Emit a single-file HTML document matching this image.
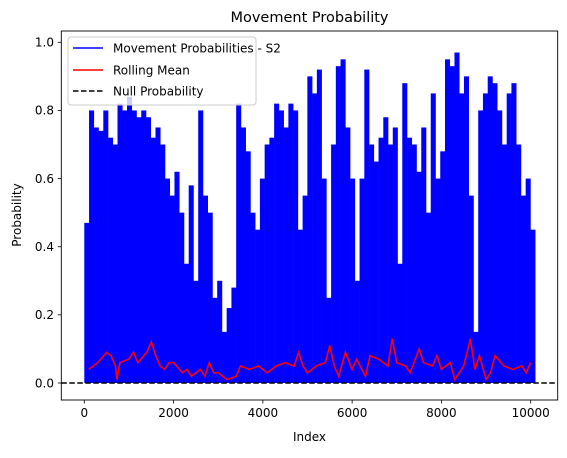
<!DOCTYPE html>
<html><head><meta charset="utf-8"><style>
body{margin:0;background:#fff;}
svg text{font-family:"DejaVu Sans","Liberation Sans",sans-serif;}
</style></head><body>
<svg id="chart" width="567" height="453" xmlns="http://www.w3.org/2000/svg">
<rect width="567" height="453" fill="#fff"/>
<text x="309.5" y="22" font-size="14.5" text-anchor="middle">Movement Probability</text>
<g id="plot"></g>
<g id="axes"></g>
<text x="309.5" y="441" font-size="12" text-anchor="middle">Index</text>
<text transform="translate(21,215) rotate(-90)" font-size="12" text-anchor="middle">Probability</text>
<g>
<rect x="68" y="37" width="188" height="68" fill="#fff" fill-opacity="0.8" stroke="#ccc" rx="3"/>
<line x1="73" y1="48" x2="103" y2="48" stroke="#00f" stroke-width="1.5"/>
<text x="113" y="52.5" font-size="12">Movement Probabilities - S2</text>
<line x1="73" y1="70" x2="103" y2="70" stroke="#f00" stroke-width="1.5"/>
<text x="113" y="74.5" font-size="12">Rolling Mean</text>
<line x1="73" y1="91" x2="103" y2="91" stroke="#000" stroke-width="1.5" stroke-dasharray="5.5,2.5"/>
<text x="113" y="95.5" font-size="12">Null Probability</text>
</g>
</svg>
<script>
const probPeaks=[0.47,0.8,0.75,0.74,0.8,0.72,0.7,0.82,0.8,0.84,0.8,0.78,0.8,0.78,0.72,0.75,0.7,0.6,0.55,0.62,0.5,0.35,0.58,0.3,0.8,0.55,0.5,0.25,0.3,0.15,0.22,0.28,0.82,0.75,0.68,0.5,0.45,0.6,0.7,0.72,0.82,0.8,0.75,0.82,0.8,0.45,0.55,0.9,0.85,0.92,0.6,0.25,0.7,0.93,0.95,0.75,0.6,0.3,0.6,0.92,0.7,0.65,0.72,0.78,0.7,0.75,0.35,0.88,0.72,0.7,0.62,0.75,0.5,0.85,0.6,0.68,0.95,0.93,0.97,0.85,0.9,0.55,0.15,0.8,0.85,0.9,0.88,0.8,0.7,0.85,0.88,0.7,0.55,0.6,0.45];
const probStart=0, probEnd=10100;
const meanIdx=[100,300,500,600,700,730,800,1000,1100,1200,1400,1500,1600,1700,1800,1900,2000,2200,2300,2400,2500,2600,2700,2800,2900,3000,3200,3400,3500,3700,3900,4100,4300,4500,4700,4800,4900,5000,5200,5400,5500,5600,5700,5850,6000,6100,6300,6400,6600,6800,6900,7000,7200,7300,7500,7600,7800,7900,8000,8200,8300,8500,8650,8750,8850,9000,9100,9200,9400,9600,9800,9900,10000];
const meanVal=[0.04,0.06,0.09,0.08,0.05,0.01,0.06,0.07,0.09,0.06,0.09,0.12,0.08,0.05,0.04,0.06,0.06,0.03,0.04,0.02,0.03,0.04,0.02,0.06,0.03,0.03,0.01,0.02,0.05,0.04,0.05,0.03,0.05,0.06,0.05,0.09,0.05,0.03,0.05,0.06,0.11,0.05,0.02,0.09,0.04,0.07,0.02,0.08,0.07,0.05,0.13,0.06,0.05,0.03,0.1,0.06,0.05,0.08,0.04,0.06,0.01,0.05,0.13,0.04,0.08,0.01,0.03,0.08,0.05,0.04,0.05,0.03,0.06];
const xTicks=[0,2000,4000,6000,8000,10000];
const yTicks=[0,0.2,0.4,0.6,0.8,1.0];
const nullProb=0;
const NS='http://www.w3.org/2000/svg';
const X=v=>84.3+v*0.04464;
const Y=v=>383-v*340.7;
const plot=document.getElementById('plot'), axes=document.getElementById('axes');
function mk(tag,attrs,parent){const e=document.createElementNS(NS,tag);for(const k in attrs)e.setAttribute(k,attrs[k]);parent.appendChild(e);return e;}
const step=(probEnd-probStart)/probPeaks.length;
probPeaks.forEach((p,i)=>{
  const x0=X(probStart+i*step), x1=X(probStart+(i+1)*step);
  const r=mk('rect',{x:x0,y:Y(p),width:x1-x0+0.3,height:Y(0)-Y(p),fill:'#0000ff'},plot);
  
  
});
let d='';meanIdx.forEach((v,i)=>{d+=(i?'L':'M')+X(v).toFixed(1)+','+Y(meanVal[i]).toFixed(1);});
const ml=mk('path',{d:d,fill:'none',stroke:'#ff0000','stroke-width':1.6},plot);


const nl=mk('line',{x1:61.3,x2:557.7,y1:Y(nullProb),y2:Y(nullProb),stroke:'#000','stroke-width':1.6,'stroke-dasharray':'5.5,2.5'},plot);


const fr=mk('rect',{x:61.3,y:31,width:496.4,height:369,fill:'none',stroke:'#000','stroke-width':0.9},axes);


xTicks.forEach(t=>{
  mk('line',{x1:X(t),x2:X(t),y1:400,y2:403.5,stroke:'#000','stroke-width':0.8},axes);
  const tx=mk('text',{x:X(t),y:417,'font-size':12,'text-anchor':'middle'},axes);tx.textContent=t;
  
  
});
yTicks.forEach(t=>{
  mk('line',{x1:57.8,x2:61.3,y1:Y(t),y2:Y(t),stroke:'#000','stroke-width':0.8},axes);
  const tx=mk('text',{x:54,y:Y(t)+4.3,'font-size':12,'text-anchor':'end'},axes);tx.textContent=t.toFixed(1);
  
  
});
</script>
</body></html>
